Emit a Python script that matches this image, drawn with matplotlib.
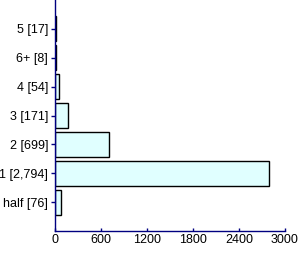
import matplotlib
matplotlib.use("Agg")
import matplotlib.pyplot as plt

categories = ["half [76]", "1 [2,794]", "2 [699]", "3 [171]", "4 [54]", "6+ [8]", "5 [17]"]
values = [76, 2794, 699, 171, 54, 8, 17]
xticks = [0, 600, 1200, 1800, 2400, 3000]

plt.rcParams['font.family'] = ['Liberation Sans', 'DejaVu Sans']
fig = plt.figure(figsize=(3.0, 2.54), dpi=100)
ax = fig.add_axes([55/300, 1 - 231/254, 230/300, 231/254])
pos = list(range(1, len(categories) + 1))
ax.barh(pos, values, height=0.86, color="#E0FFFF", edgecolor="black", linewidth=1)
ax.set_ylim(0, len(categories) + 1)
ax.set_xlim(0, 3000)
ax.set_yticks(pos)
ax.set_yticklabels(categories, fontsize=9)
ax.set_xticks(xticks)
ax.set_xticklabels([str(t) for t in xticks], fontsize=9)
for s in ["top", "right"]:
    ax.spines[s].set_visible(False)
for s in ["left", "bottom"]:
    ax.spines[s].set_color("#000080")
    ax.spines[s].set_linewidth(1)
ax.tick_params(axis="y", colors="#000080", length=3, width=1, labelcolor="black", pad=2, direction="out")
ax.tick_params(axis="x", colors="#000080", length=2, width=1, labelcolor="black", pad=2, direction="in")
fig.savefig("out.png", dpi=100)
